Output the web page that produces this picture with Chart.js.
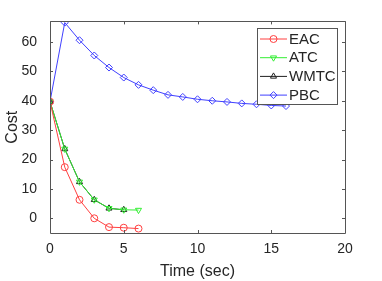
<!DOCTYPE html>
<html>
<head>
<meta charset="utf-8">
<script src="https://cdn.jsdelivr.net/npm/chart.js@4"></script>
<style>
html, body { margin: 0; padding: 0; background: #fff; }
</style>
</head>
<body>
<canvas id="myChart" width="382" height="281"></canvas>
<script>
// values
const timeSteps = [0, 1, 2, 3, 4, 5, 6, 7, 8, 9, 10, 11, 12, 13, 14, 15, 16]
const eacCost = [39.7, 17.4, 6.3, 0, -3.0, -3.2, -3.5]
const atcCost = [39.7, 23.6, 12.4, 6.3, 3.4, 2.9, 2.8]
const wmtcCost = [39.7, 23.6, 12.4, 6.3, 3.4, 2.9]
const pbcCost = [39.7, 66.6, 60.6, 55.4, 51.3, 47.9, 45.4, 43.6, 42.0, 41.3, 40.5, 40.0, 39.6, 39.1, 38.8, 38.4, 38.2]
const xTicks = [0, 5, 10, 15, 20]
const yTicks = [0, 10, 20, 30, 40, 50, 60]

const textColor = '#262626'
const axisColor = '#555555'
const font = 'Liberation Sans, Arial, Helvetica, sans-serif'

const toPoints = (values) => values.map((v, i) => ({ x: timeSteps[i], y: v }))

const makeSet = (label, values, color, style, rotation) => ({
    label: label,
    data: toPoints(values),
    borderColor: color,
    borderWidth: 1,
    pointStyle: style,
    pointRotation: rotation,
    pointRadius: 3.5,
    pointBorderColor: color,
    pointBackgroundColor: 'rgba(255,255,255,0)',
    pointBorderWidth: 1,
    tension: 0,
    fill: false,
})

const data = {
    datasets: [
        makeSet('EAC', eacCost, '#ff4040', 'circle', 0),
        makeSet('ATC', atcCost, '#33ee33', 'triangle', 180),
        makeSet('WMTC', wmtcCost, '#202020', 'triangle', 0),
        makeSet('PBC', pbcCost, '#4040ff', 'rectRot', 0),
    ],
}

// box round the axes with inward ticks, like matlab
const boxTicks = {
    id: 'boxTicks',
    afterDraw(chart) {
        const ctx = chart.ctx
        const a = chart.chartArea
        const sx = chart.scales.x
        const sy = chart.scales.y
        ctx.save()
        ctx.strokeStyle = axisColor
        ctx.lineWidth = 1
        ctx.beginPath()
        ctx.rect(Math.round(a.left) + 0.5, Math.round(a.top) + 0.5, Math.round(a.right - a.left), Math.round(a.bottom - a.top))
        xTicks.forEach((t) => {
            const px = Math.round(sx.getPixelForValue(t)) + 0.5
            ctx.moveTo(px, a.bottom)
            ctx.lineTo(px, a.bottom - 3)
            ctx.moveTo(px, a.top)
            ctx.lineTo(px, a.top + 3)
        })
        yTicks.forEach((t) => {
            const py = Math.round(sy.getPixelForValue(t)) + 0.5
            ctx.moveTo(a.left, py)
            ctx.lineTo(a.left + 3, py)
            ctx.moveTo(a.right, py)
            ctx.lineTo(a.right - 3, py)
        })
        ctx.stroke()
        ctx.restore()
    },
}

const legendBox = {
    id: 'legendBox',
    afterDatasetsDraw(chart) {
        const ctx = chart.ctx
        const x0 = 257.5, y0 = 28.5, w = 80, h = 76
        ctx.save()
        ctx.fillStyle = '#ffffff'
        ctx.fillRect(x0, y0, w, h)
        ctx.strokeStyle = axisColor
        ctx.lineWidth = 1
        ctx.strokeRect(x0, y0, w, h)
        ctx.font = '15px ' + font
        ctx.textBaseline = 'middle'
        chart.data.datasets.forEach((ds, i) => {
            const y = 39 + i * 18.7
            ctx.strokeStyle = ds.borderColor
            ctx.beginPath()
            ctx.moveTo(260, y)
            ctx.lineTo(287, y)
            ctx.stroke()
            ctx.fillStyle = 'rgba(255,255,255,0)'
            Chart.helpers.drawPoint(ctx, {
                pointStyle: ds.pointStyle,
                rotation: ds.pointRotation,
                radius: 3.5,
                borderWidth: 1,
            }, 273.5, y)
            ctx.fillStyle = textColor
            ctx.fillText(ds.label, 289, y + 0.5)
        })
        ctx.restore()
    },
}

const config = {
    type: 'line',
    data: data,
    options: {
        responsive: false,
        animation: false,
        devicePixelRatio: 1,
        layout: { padding: { left: 0, top: 21, right: 37, bottom: 0 } },
        plugins: { legend: { display: false }, tooltip: { enabled: false } },
        scales: {
            x: {
                type: 'linear',
                min: 0,
                max: 20,
                afterFit: (s) => { s.height = 48 },
                afterBuildTicks: (s) => { s.ticks = xTicks.map((v) => ({ value: v })) },
                grid: { display: false, drawTicks: false },
                border: { display: false },
                ticks: { color: textColor, font: { family: font, size: 14 }, padding: 8, maxRotation: 0 },
                title: { display: true, text: 'Time (sec)', color: textColor, font: { family: font, size: 16 }, padding: { top: 2, bottom: 0 } },
            },
            y: {
                min: -5,
                max: 67,
                afterFit: (s) => { s.width = 50 },
                afterBuildTicks: (s) => { s.ticks = yTicks.map((v) => ({ value: v })) },
                grid: { display: false, drawTicks: false },
                border: { display: false },
                ticks: { color: textColor, font: { family: font, size: 14 }, padding: 13 },
                title: { display: true, text: 'Cost', color: textColor, font: { family: font, size: 16 }, padding: { top: 3, bottom: 0 } },
            },
        },
    },
    plugins: [boxTicks, legendBox],
}

const myChart = new Chart(document.getElementById('myChart'), config)
</script>
</body>
</html>
